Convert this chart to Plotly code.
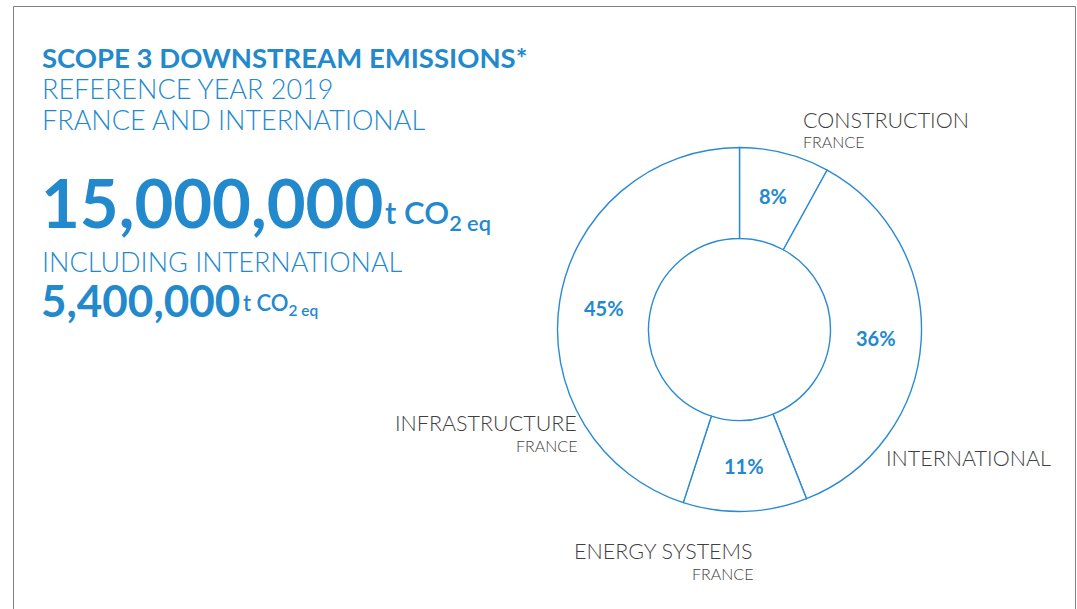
import plotly.graph_objects as go

# Downstream scope 3 emissions breakdown, reference year 2019
categories = ["CONSTRUCTION", "INTERNATIONAL", "ENERGY SYSTEMS", "INFRASTRUCTURE"]
subtitles = ["FRANCE", "", "FRANCE", "FRANCE"]
shares = [8, 36, 11, 45]
total_emissions = "15,000,000"
international_emissions = "5,400,000"

W, H = 1077, 609
BLUE = "#2389cd"
GREY = "#3f3f3f"
FONT = "Lato"
PAD = 3  # annotation box padding in px


def px(x, y):
    return x / W, 1 - y / H


# donut geometry in pixels
cx, cy, r = 739.5, 329.5, 182

fig = go.Figure(
    go.Pie(
        labels=categories,
        values=shares,
        hole=0.5,
        sort=False,
        direction="clockwise",
        rotation=0,
        textinfo="none",
        hoverinfo="skip",
        marker=dict(colors=["white"] * len(shares), line=dict(color="#2a8ad2", width=1.4)),
        domain=dict(x=[(cx - r) / W, (cx + r) / W], y=[(H - cy - r) / H, (H - cy + r) / H]),
    )
)

ann = []


def text(x, y, s, size, color, weight=400, anchor="left"):
    if anchor == "left":
        x -= PAD
    elif anchor == "right":
        x += PAD
    ax, ay = px(x, y)
    ann.append(dict(x=ax, y=ay, xref="paper", yref="paper", text=s, showarrow=False,
                    xanchor=anchor, yanchor="middle",
                    font=dict(family=FONT, size=size, color=color, weight=weight)))


# headline block
text(43, 57, "SCOPE 3 DOWNSTREAM EMISSIONS*", 27.5, BLUE, 700)
text(43, 89, "REFERENCE YEAR 2019", 27, BLUE, 300)
text(43, 120, "FRANCE AND INTERNATIONAL", 27, BLUE, 300)
text(42, 202, total_emissions, 67, BLUE, 700)
text(386, 214, "t CO<sub>2 eq</sub>", 31, BLUE, 600)
text(43, 261, "INCLUDING INTERNATIONAL", 27, BLUE, 300)
text(42, 300, international_emissions, 44, BLUE, 700)
text(244, 304, "t CO<sub>2 eq</sub>", 22, BLUE, 600)

# percentage labels inside the ring
pct_pos = [(773, 196), (876, 338), (744, 466), (604, 308)]
for (x, y), v in zip(pct_pos, shares):
    text(x, y, f"{v}%", 20, BLUE, 700, anchor="center")

# category labels around the ring
cat_pos = [(804, 120, "left"), (887, 458, "left"), (752, 551, "right"), (576, 423, "right")]
for (x, y, a), name, sub in zip(cat_pos, categories, subtitles):
    text(x, y, name, 21.5, GREY, 300, anchor=a)
    if sub:
        text(x, y + 22, sub, 16, GREY, 300, anchor=a)

# frame around the panel
shapes = [
    dict(type="line", xref="paper", yref="paper", x0=13.5 / W, x1=13.5 / W, y0=1 - 6.5 / H, y1=-0.05,
         line=dict(color="#808080", width=1)),
    dict(type="line", xref="paper", yref="paper", x0=13.5 / W, x1=1075.5 / W, y0=1 - 6.5 / H, y1=1 - 6.5 / H,
         line=dict(color="#808080", width=1)),
    dict(type="line", xref="paper", yref="paper", x0=1075.5 / W, x1=1075.5 / W, y0=1 - 6.5 / H, y1=-0.05,
         line=dict(color="#808080", width=1)),
]

fig.update_layout(
    width=W, height=H,
    margin=dict(l=0, r=0, t=0, b=0),
    paper_bgcolor="white", plot_bgcolor="white",
    showlegend=False,
    annotations=ann,
    shapes=shapes,
)

fig.write_html("out.html")
